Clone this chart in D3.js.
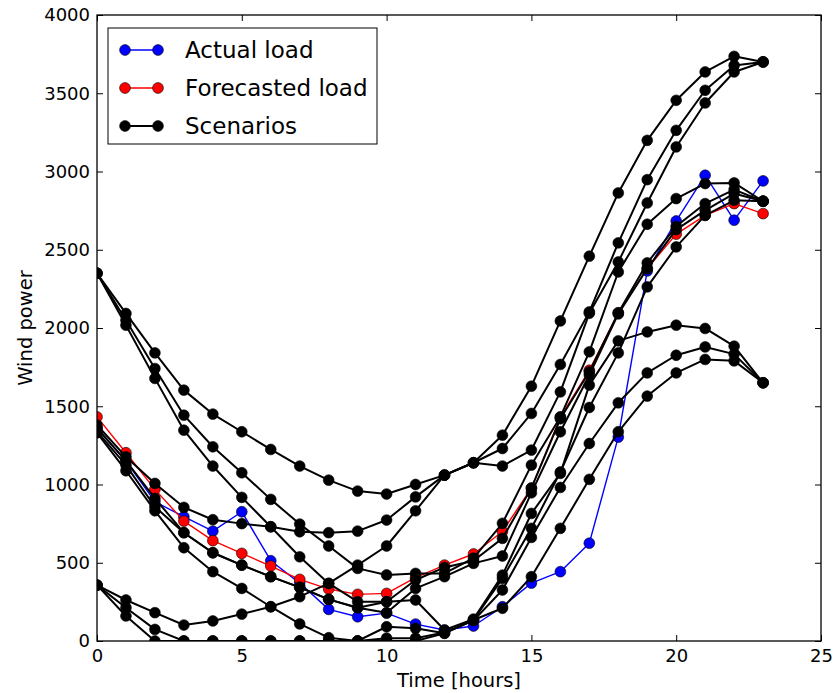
<!DOCTYPE html>
<html>
<head>
<meta charset="utf-8">
<script src="https://cdn.jsdelivr.net/npm/d3@7"></script>
<style>
  body { margin: 0; background: #fff; }
  text { font-family: "DejaVu Sans", sans-serif; }
</style>
</head>
<body>
<div id="chart"></div>
<script>
// hours 0..23
var hours = d3.range(0, 24)

var actualLoad = [1360, 1150, 890, 794, 702, 826, 513, 370, 202, 155, 178, 108, 70, 96, 219, 370, 443, 625, 1303, 2365, 2684, 2976, 2689, 2940]
var forecastLoad = [1432, 1203, 969, 766, 641, 560, 479, 394, 332, 298, 304, 405, 485, 556, 700, 977, 1430, 1730, 2097, 2380, 2600, 2720, 2795, 2731]

// scenarios
var scen1 = [2350, 2093, 1841, 1603, 1450, 1337, 1224, 1118, 1028, 958, 939, 1000, 1060, 1139, 1315, 1628, 2045, 2459, 2863, 3199, 3455, 3636, 3736, 3700]
var scen2 = [1380, 1177, 1007, 854, 775, 750, 730, 698, 692, 702, 773, 921, 1060, 1139, 1230, 1454, 1767, 2103, 2544, 2948, 3263, 3519, 3678, 3700]
var scen3 = [357, 262, 181, 102, 128, 172, 219, 283, 368, 485, 607, 832, 1060, 1139, 1118, 1220, 1592, 2094, 2422, 2799, 3157, 3438, 3636, 3700]
var scen4 = [2350, 2050, 1741, 1443, 1241, 1075, 905, 747, 607, 464, 422, 432, 432, 530, 752, 1124, 1432, 1848, 2358, 2663, 2827, 2923, 2927, 2810]
var scen5 = [1360, 1151, 911, 692, 564, 485, 411, 343, 266, 213, 251, 390, 470, 513, 656, 977, 1420, 1720, 2097, 2416, 2650, 2795, 2884, 2810]
var scen6 = [1340, 1124, 858, 692, 564, 485, 411, 343, 266, 213, 181, 336, 411, 496, 543, 947, 1337, 1700, 2090, 2380, 2629, 2752, 2859, 2810]
var scen7 = [2350, 2018, 1678, 1347, 1118, 918, 730, 538, 368, 251, 251, 262, 70, 140, 421, 815, 1071, 1635, 1918, 1975, 2018, 1997, 1884, 1650]
var scen8 = [1330, 1088, 832, 596, 443, 336, 219, 109, 21, 0, 91, 81, 49, 134, 400, 720, 1080, 1492, 1841, 2263, 2518, 2720, 2816, 2810]
var scen9 = [357, 213, 74, 0, 0, 0, 0, 0, 0, 0, 18, 18, 55, 130, 326, 662, 981, 1262, 1522, 1713, 1826, 1879, 1833, 1650]
var scen10 = [357, 160, 0, 0, 0, 0, 0, 0, 0, 0, 0, 0, 50, 134, 209, 411, 720, 1033, 1337, 1565, 1713, 1799, 1790, 1650]
var scenarios = [scen1, scen2, scen3, scen4, scen5, scen6, scen7, scen8, scen9, scen10]

var xTicks = [0, 5, 10, 15, 20, 25]
var yTicks = [0, 500, 1000, 1500, 2000, 2500, 3000, 3500, 4000]

var legendNames = ["Actual load", "Forecasted load", "Scenarios"]
var legendColors = ["#0000ff", "#ff0000", "#000000"]

var width = 840
var height = 693
// plot box ("top" is taken by window.top, so prefix them)
var pLeft = 97, pRight = 821, pTop = 15, pBottom = 641

var x = d3.scaleLinear().domain([0, 25]).range([pLeft, pRight])
var y = d3.scaleLinear().domain([0, 4000]).range([pBottom, pTop])

var svg = d3.select("#chart").append("svg")
  .attr("width", width)
  .attr("height", height)

svg.append("defs").append("clipPath")
  .attr("id", "plotclip")
  .append("rect")
  .attr("x", pLeft).attr("y", pTop)
  .attr("width", pRight - pLeft).attr("height", pBottom - pTop)

var line = d3.line()
  .x(function(d, i) { return x(hours[i]) })
  .y(function(d) { return y(d) })

var plot = svg.append("g").attr("clip-path", "url(#plotclip)")

function drawSeries(values, color, lw) {
  plot.append("path")
    .datum(values)
    .attr("d", line)
    .attr("fill", "none")
    .attr("stroke", color)
    .attr("stroke-width", lw)
    .attr("stroke-linejoin", "round")
  plot.append("g").selectAll("circle")
    .data(values)
    .enter()
    .append("circle")
    .attr("cx", function(d, i) { return x(hours[i]) })
    .attr("cy", function(d) { return y(d) })
    .attr("r", 5.4)
    .attr("fill", color)
    .attr("stroke", "#000")
    .attr("stroke-width", 0.6)
}

drawSeries(actualLoad, legendColors[0], 1.4)
drawSeries(forecastLoad, legendColors[1], 1.4)
scenarios.forEach(function(s) { drawSeries(s, legendColors[2], 2) })

// axes, matplotlib classic look: ticks inside on all four sides
var fmt = d3.format("d")
svg.append("g")
  .attr("transform", "translate(0," + pBottom + ")")
  .call(d3.axisBottom(x).tickValues(xTicks).tickFormat(fmt).tickSizeInner(-6).tickSizeOuter(0).tickPadding(8))
  .call(styleAxis)
svg.append("g")
  .attr("transform", "translate(0," + pTop + ")")
  .call(d3.axisTop(x).tickValues(xTicks).tickFormat("").tickSizeInner(-6).tickSizeOuter(0))
  .call(styleAxis)
svg.append("g")
  .attr("transform", "translate(" + pLeft + ",0)")
  .call(d3.axisLeft(y).tickValues(yTicks).tickFormat(fmt).tickSizeInner(-6).tickSizeOuter(0).tickPadding(7))
  .call(styleAxis)
svg.append("g")
  .attr("transform", "translate(" + pRight + ",0)")
  .call(d3.axisRight(y).tickValues(yTicks).tickFormat("").tickSizeInner(-6).tickSizeOuter(0))
  .call(styleAxis)

function styleAxis(g) {
  g.select(".domain").remove()
  g.selectAll(".tick line").attr("stroke", "#000").attr("stroke-width", 1)
  g.selectAll(".tick text")
    .attr("fill", "#000")
    .style("font-family", "'DejaVu Sans', sans-serif")
    .style("font-size", "18px")
}

svg.append("rect")
  .attr("x", pLeft).attr("y", pTop)
  .attr("width", pRight - pLeft).attr("height", pBottom - pTop)
  .attr("fill", "none")
  .attr("stroke", "#000")
  .attr("stroke-width", 1.3)

svg.append("text")
  .attr("x", (pLeft + pRight) / 2)
  .attr("y", 687)
  .attr("text-anchor", "middle")
  .attr("font-size", 19.5)
  .text("Time [hours]")

svg.append("text")
  .attr("transform", "translate(32," + (pTop + pBottom) / 2 + ") rotate(-90)")
  .attr("text-anchor", "middle")
  .attr("font-size", 19.5)
  .text("Wind power")

// legend
var legend = svg.append("g")
legend.append("rect")
  .attr("x", 108).attr("y", 28)
  .attr("width", 269).attr("height", 116)
  .attr("fill", "#fff")
  .attr("stroke", "#000")
  .attr("stroke-width", 1)

var item = legend.selectAll(".item")
  .data(legendNames)
  .enter()
  .append("g")
  .attr("transform", function(d, i) { return "translate(0," + (50 + i * 38) + ")" })

item.append("line")
  .attr("x1", 125).attr("x2", 158)
  .attr("stroke", function(d, i) { return legendColors[i] })
  .attr("stroke-width", function(d, i) { return i == 2 ? 2 : 1.4 })
item.selectAll("circle")
  .data(function(d, i) { return [[125, i], [158, i]] })
  .enter()
  .append("circle")
  .attr("cx", function(d) { return d[0] })
  .attr("r", 5.4)
  .attr("fill", function(d) { return legendColors[d[1]] })
  .attr("stroke", "#000")
  .attr("stroke-width", 0.6)
item.append("text")
  .attr("x", 185)
  .attr("dy", "0.36em")
  .attr("font-size", 23)
  .text(function(d) { return d })
</script>
</body>
</html>
